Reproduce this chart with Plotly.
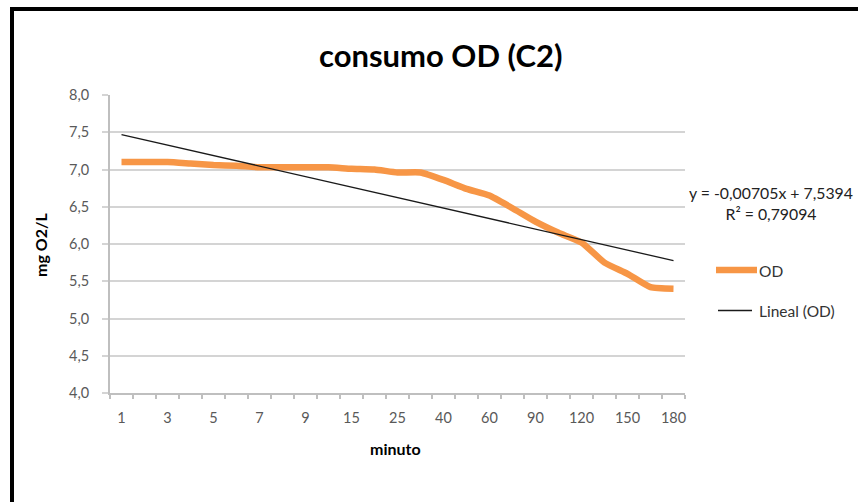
import plotly.graph_objects as go

# Dissolved-oxygen consumption, sample C2
MINUTES = [1, 2, 3, 4, 5, 6, 7, 8, 9, 10, 15, 20, 25, 30, 40, 50, 60, 75, 90, 105, 120, 135, 150, 165, 180]
OD = [7.10, 7.10, 7.10, 7.08, 7.06, 7.05, 7.03, 7.03, 7.03, 7.03, 7.01, 7.00, 6.96, 6.96, 6.86,
      6.74, 6.65, 6.48, 6.30, 6.15, 6.02, 5.75, 5.60, 5.42, 5.40]
Y_TICKS = [4.0, 4.5, 5.0, 5.5, 6.0, 6.5, 7.0, 7.5, 8.0]

# Linear trend over the point index (1..n)
TREND_SLOPE = -0.0705
TREND_INTERCEPT = 7.5394
TREND_LABEL = "y = -0,00705x + 7,5394<br>R² = 0,79094"

SERIES_NAME = "OD"
TREND_NAME = "Lineal (OD)"

FONT = "Lato, 'Open Sans', sans-serif"
ORANGE = "#F79646"
GRID = "#D4D4D4"
TICK_TEXT = "#595959"

# plot area in pixels
W, H = 858, 502
L, R, T, B = 110, 173, 95, 109
PW, PH = W - L - R, H - T - B


def px(xp):
    return (xp - L) / PW


def py(yp):
    return (H - B - yp) / PH


idx = list(range(len(MINUTES)))
trend = [TREND_SLOPE * (i + 1) + TREND_INTERCEPT for i in idx]

fig = go.Figure()
fig.add_trace(go.Scatter(
    x=idx, y=OD, mode="lines", name=SERIES_NAME,
    line=dict(color=ORANGE, width=6.5, shape="spline", smoothing=0.5),
))
fig.add_trace(go.Scatter(
    x=idx, y=trend, mode="lines", name=TREND_NAME,
    line=dict(color="#1a1a1a", width=1.3),
))

fig.update_layout(
    width=W, height=H,
    margin=dict(l=L, r=R, t=T, b=B, pad=0),
    paper_bgcolor="white", plot_bgcolor="white",
    separators=",.",
    font=dict(family=FONT, size=14, color=TICK_TEXT),
    showlegend=False,
    xaxis=dict(
        range=[-0.5, len(MINUTES) - 0.5],
        tickmode="array",
        tickvals=idx[::2],
        ticktext=[str(m) for m in MINUTES[::2]],
        ticks="", showgrid=False, zeroline=False,
        showline=True, linecolor="#BFBFBF", linewidth=2,
        tickfont=dict(family=FONT, size=14.5, color=TICK_TEXT),
        ticklabelstandoff=11,
        minor=dict(tickmode="linear", tick0=-0.5, dtick=1, ticks="outside",
                   ticklen=4, tickwidth=1.5, tickcolor="#BFBFBF", showgrid=False),
    ),
    yaxis=dict(
        range=[4.0, 8.0],
        tickmode="array", tickvals=Y_TICKS, tickformat=".1f",
        ticks="outside", ticklen=6, tickwidth=2, tickcolor=GRID,
        showgrid=True, gridcolor=GRID, gridwidth=2,
        zeroline=False, showline=True, linecolor="#BFBFBF", linewidth=2,
        tickfont=dict(family=FONT, size=14.5, color=TICK_TEXT),
        ticklabelstandoff=10,
    ),
)

annotations = [
    dict(text="<b>consumo OD (C2)</b>", x=px(440), y=py(55), xref="paper", yref="paper",
         showarrow=False, font=dict(family=FONT, size=31, color="#000000"),
         xanchor="center", yanchor="middle"),
    dict(text="<b>mg O2/L</b>", x=px(40), y=py(245), xref="paper", yref="paper",
         showarrow=False, textangle=-90, font=dict(family=FONT, size=16, color="#000000"),
         xanchor="center", yanchor="middle"),
    dict(text="<b>minuto</b>", x=px(395), y=py(448), xref="paper", yref="paper",
         showarrow=False, font=dict(family=FONT, size=16, color="#000000"),
         xanchor="center", yanchor="middle"),
    dict(text=TREND_LABEL, x=px(771), y=py(203), xref="paper", yref="paper",
         showarrow=False, align="center", font=dict(family=FONT, size=15.8, color="#222222"),
         xanchor="center", yanchor="middle"),
    # legend entries
    dict(text=SERIES_NAME, x=px(757), y=py(271), xref="paper", yref="paper",
         showarrow=False, font=dict(family=FONT, size=15.5, color="#333333"),
         xanchor="left", yanchor="middle"),
    dict(text=TREND_NAME, x=px(757), y=py(311), xref="paper", yref="paper",
         showarrow=False, font=dict(family=FONT, size=15.5, color="#333333"),
         xanchor="left", yanchor="middle"),
]
fig.update_layout(annotations=annotations)

# legend samples
fig.add_shape(type="line", xref="paper", yref="paper",
              x0=px(716), x1=px(757), y0=py(270), y1=py(270),
              line=dict(color=ORANGE, width=6.5))
fig.add_shape(type="line", xref="paper", yref="paper",
              x0=px(718), x1=px(752), y0=py(310.5), y1=py(310.5),
              line=dict(color="#1a1a1a", width=1.3))

# heavy frame along the top and left edges
fig.add_shape(type="rect", xref="paper", yref="paper",
              x0=px(12), x1=px(960), y0=py(9), y1=py(600),
              line=dict(color="#000000", width=4), fillcolor="rgba(0,0,0,0)", layer="above")

fig.write_html("out.html")
